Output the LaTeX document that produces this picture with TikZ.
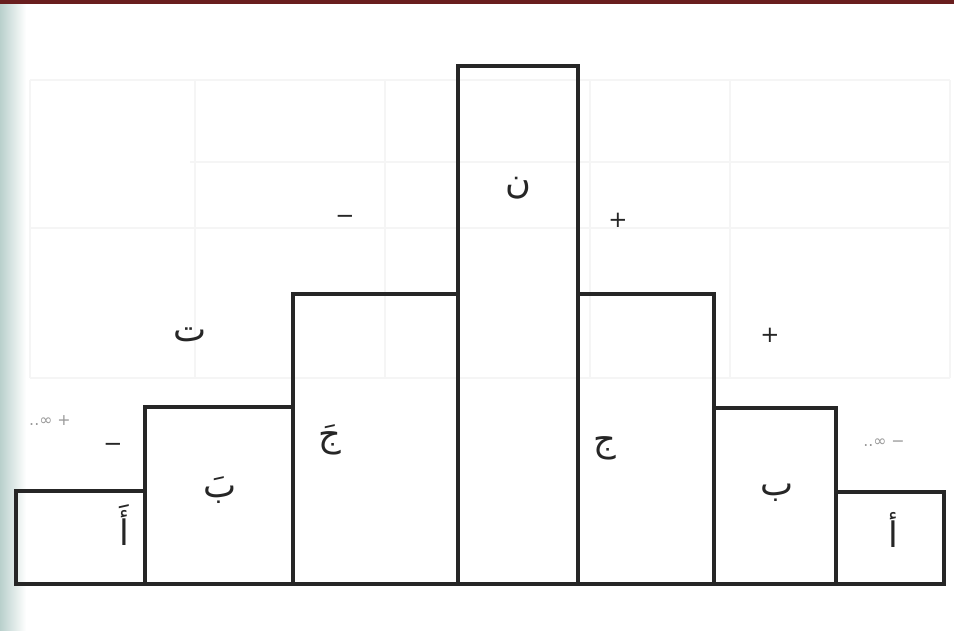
\documentclass[tikz,border=0pt]{standalone}
\usepackage{fontspec}
\TeXXeTstate=1
\newfontfamily\arabicfont[Script=Arabic]{DejaVu Sans}
\newfontfamily\symfont{DejaVu Sans}
\definecolor{topred}{RGB}{105,30,30}
\definecolor{scanedge}{RGB}{185,208,204}
\begin{document}
\begin{tikzpicture}[x={(0.02cm,0)},y={(0,-0.02cm)},
  bar/.style={draw=black!85,line width=2pt,fill=none},
  ghost/.style={draw=black!4,line width=0.6pt},
  letter/.style={font=\arabicfont\fontsize{20}{24}\selectfont,text=black!85,inner sep=1pt},
  sign/.style={font=\symfont\fontsize{13}{15}\selectfont,text=black!85,inner sep=1pt},
  faint/.style={font=\symfont\fontsize{9}{11}\selectfont,text=black!40,inner sep=1pt}]
\useasboundingbox (0,0) rectangle (954,630);
\fill[white] (0,0) rectangle (954,630);
\shade[left color=scanedge,right color=white] (0,0) rectangle (26,630);
\fill[topred] (0,0) rectangle (954,4);
% faint bleed-through table
\draw[ghost] (30,80) -- (950,80);
\draw[ghost] (190,162) -- (950,162);
\draw[ghost] (30,228) -- (950,228);
\draw[ghost] (30,378) -- (950,378);
\draw[ghost] (30,80) -- (30,378);
\draw[ghost] (195,80) -- (195,378);
\draw[ghost] (385,80) -- (385,378);
\draw[ghost] (590,80) -- (590,378);
\draw[ghost] (730,80) -- (730,378);
\draw[ghost] (950,80) -- (950,378);
% bars
\draw[bar] (16,491) rectangle (145,584);
\draw[bar] (145,407) rectangle (293,584);
\draw[bar] (293,294) rectangle (458,584);
\draw[bar] (458,66) rectangle (578,584);
\draw[bar] (578,294) rectangle (714,584);
\draw[bar] (714,408) rectangle (836,584);
\draw[bar] (836,492) rectangle (944,584);
% letters
\node[letter] (a1) at (124,525) {\beginR أَ\endR};
\node[letter] (b1) at (220,490) {\beginR بَ\endR};
\node[letter] (t1) at (190,335) {\beginR ت\endR};
\node[letter] (j1) at (330,440) {\beginR جَ\endR};
\node[letter] (n1) at (518,188) {\beginR ن\endR};
\node[letter] (j2) at (605,448) {\beginR ج\endR};
\node[letter] (b2) at (777,493) {\beginR ب\endR};
\node[letter] (a2) at (893,530) {\beginR أ\endR};
% signs
\node[sign] (m1) at (113,447) {−};
\node[sign] (m2) at (345,219) {−};
\node[sign] (p1) at (618,220) {+};
\node[sign] (p2) at (770,335) {+};
\node[faint] (pinf) at (50,421) {..∞ +};
\node[faint] (minf) at (884,443) {..∞ −};
\end{tikzpicture}
\end{document}
